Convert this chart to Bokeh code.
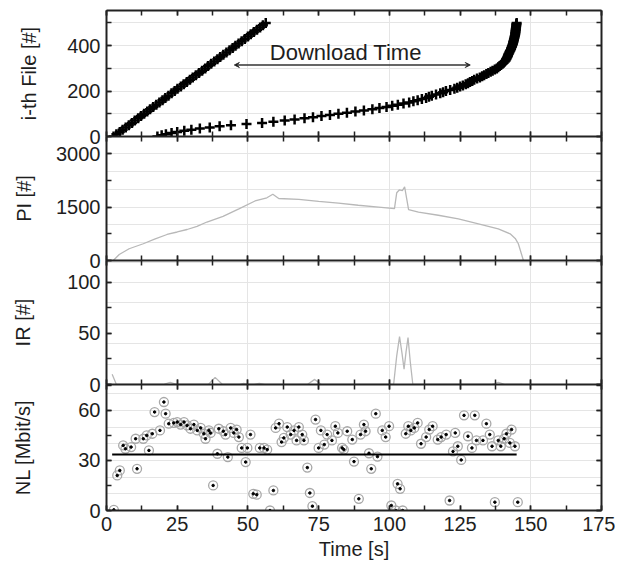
from bokeh.plotting import figure
from bokeh.layouts import column
from bokeh.models import Range1d, LinearAxis, SingleIntervalTicker, Arrow, VeeHead, Label
from bokeh.embed import file_html
from bokeh.resources import INLINE

# ---------------- data ----------------
# Panel 1: completion time of the i-th file (two transfers)
fileA_idx = list(range(0, 501, 10))
fileA_t = [2.5, 3.5, 4.7, 5.7, 6.8, 7.9, 9.0, 10.0, 11.2, 12.2, 13.3, 14.4, 15.4, 16.5, 17.6,
           18.7, 19.8, 20.8, 21.9, 23.0, 24.1, 25.1, 26.3, 27.3, 28.4, 29.5, 30.5, 31.6, 32.7,
           33.8, 34.9, 35.9, 37.0, 38.1, 39.2, 40.2, 41.3, 42.4, 43.5, 44.6, 45.6, 46.7, 47.8,
           48.9, 50.0, 51.0, 52.1, 53.2, 54.3, 55.3, 56.3]
fileB_idx = list(range(0, 501, 5))
fileB_t = [18.0, 19.5, 21.0, 23.0, 25.0, 27.5, 30.0, 33.0, 36.5, 40.0, 44.0, 49.5, 55.0, 59.0,
           63.0, 66.5, 70.0, 73.0, 76.0, 79.0, 82.0, 85.0, 88.0, 91.0, 94.0, 96.5, 99.0, 101.0,
           103.0, 105.0, 107.0, 108.5, 110.0, 111.5, 113.0, 114.0, 115.0, 116.5, 118.0, 119.0,
           120.0, 121.5, 123.0, 124.0, 125.0, 126.0, 127.0, 127.8, 128.5, 129.3, 130.0, 131.0,
           132.0, 132.8, 133.5, 134.3, 135.0, 135.8, 136.5, 137.3, 138.0, 138.5, 139.0, 139.5,
           140.0, 140.4, 140.8, 141.1, 141.3, 141.5, 141.7, 141.9, 142.0, 142.2, 142.4, 142.6,
           142.8, 143.0, 143.1, 143.3, 143.4, 143.6, 143.7, 143.8, 143.9, 144.0, 144.1, 144.2,
           144.3, 144.4, 144.5, 144.5, 144.6, 144.6, 144.7, 144.7, 144.8, 144.8, 144.9, 144.9,
           145.0]
download_label = "Download Time"
download_t = [45.2, 128.6]
download_y = 315
download_label_t = 84.6
download_label_y = 368

# Panel 2: PI
pi_t = [2.4, 4.5, 8, 13, 17, 21.4, 25, 28.5, 32, 35.5, 41.2, 46.8, 52.5, 56.7, 58.8, 60.9, 68,
        75, 82, 89, 96.2, 101.8, 102.6, 103.5, 104.6, 105.4, 106.2, 106.8, 110.3, 117.3, 124.4,
        131.5, 138.5, 142.7, 144.5, 145.6, 147.4]
pi_v = [0, 170, 330, 470, 600, 730, 800, 870, 960, 1080, 1240, 1450, 1670, 1760, 1860, 1740,
        1715, 1660, 1610, 1550, 1500, 1455, 1900, 1980, 1960, 2070, 1700, 1430, 1360, 1270,
        1170, 1030, 890, 750, 620, 470, 0]

# Panel 3: IR
ir_t = [2.0, 3.5, 20, 22.5, 25, 36, 38.4, 41, 47, 48.5, 50, 52, 54, 56, 71, 73.6, 76, 101.5,
        102.6, 103.6, 104.5, 105.2, 105.9, 106.6, 107.4, 108.3, 136, 138.5, 141, 147]
ir_v = [10, 0, 0, 2, 0, 0, 7, 0, 0, 1, 0, 0, 1, 0, 0, 5, 0, 0, 28, 47, 30, 15, 32, 46, 22, 0,
        0, 2, 0, 0]

# Panel 4: NL samples and mean line
nl_t = [2.6, 3.8, 4.7, 5.9, 6.7, 8.7, 10.3, 10.8, 13.0, 14.2, 15.0, 16.2, 17.0, 18.9, 20.3,
        20.9, 22.0, 23.8, 25.0, 26.2, 27.4, 28.5, 29.7, 30.9, 32.1, 33.3, 34.4, 35.0, 36.2,
        36.8, 37.7, 39.2, 39.7, 41.3, 42.1, 42.9, 43.9, 45.0, 46.0, 46.8, 47.8, 49.2, 49.8,
        50.9, 51.9, 53.1, 54.2, 55.7, 56.8, 57.8, 59.0, 59.8, 61.0, 61.9, 62.7, 63.9, 65.1,
        66.3, 67.2, 68.0, 69.2, 69.8, 71.0, 71.9, 72.8, 73.9, 75.0, 75.8, 77.0, 78.0, 79.7,
        80.9, 81.8, 83.3, 83.9, 85.1, 86.9, 87.5, 89.2, 89.8, 91.0, 91.6, 92.8, 93.6, 95.2,
        95.8, 97.5, 98.7, 99.9, 100.7, 102.3, 102.9, 103.8, 104.7, 105.8, 106.7, 107.6, 108.8,
        110.0, 111.2, 113.0, 114.1, 115.3, 117.1, 118.3, 120.1, 121.3, 122.5, 123.3, 124.2,
        125.4, 126.4, 127.8, 129.2, 130.2, 130.8, 133.1, 134.3, 135.5, 136.3, 137.3, 138.5,
        139.4, 140.6, 141.4, 142.6, 143.2, 144.4, 145.4]
nl_v = [0.4, 21, 24, 39, 37, 38, 43, 25, 43, 45, 36, 46, 59, 48, 65, 58, 52, 52.5, 53, 51.5,
        53, 51, 49, 51.5, 48, 49.5, 46, 43, 48, 46.5, 15, 34, 49, 47.5, 45.5, 32, 49.5, 46.5,
        48.5, 44, 37.5, 29, 37.5, 45.5, 10, 9.5, 37.5, 37.5, 36.5, 0, 12, 49.5, 52, 41, 43.5,
        50, 45.5, 48, 42, 50, 45.5, 42, 25.7, 10.5, 2.6, 54.5, 37.5, 48, 39.5, 45.5, 42, 50.5,
        46.5, 37.5, 36.5, 47.5, 42.5, 29.3, 7, 45.5, 51.5, 47.5, 34.3, 25, 58, 32.3, 48, 44,
        50.5, 3, 0, 16, 13, 0, 46, 50.5, 48, 49.5, 52.5, 40, 44, 48.5, 50.5, 42.5, 44, 45.5, 6,
        35.4, 46.5, 38.5, 30.3, 57, 44.5, 37.5, 57, 42, 42, 52, 45.5, 38.5, 5, 42, 38.5, 43,
        46, 40.5, 48.5, 38.5, 5]
nl_mean_t = [2.0, 145.0]
nl_mean = 33.5

x_max = 175
panel_ymax = [555, 3480, 121.5, 75.5]
panel_ytick = [200, 1500, 50, 30]
panel_ylabel = ["i-th File [#]", "PI [#]", "IR [#]", "NL [Mbit/s]"]
x_label = "Time [s]"

# ---------------- styling ----------------
FONT = "Liberation Sans"
TXT = "#1e1e1e"
AXC = "#222222"
FW = 495
OVER = 12  # overlap between stacked panels so edge labels are not clipped


def style_axis(ax, show_labels):
    ax.axis_line_color = AXC
    ax.axis_line_width = 2
    ax.major_tick_line_color = AXC
    ax.minor_tick_line_color = AXC
    ax.major_tick_line_width = 1.5
    ax.minor_tick_line_width = 1.5
    ax.major_tick_in = 5
    ax.major_tick_out = 0
    ax.minor_tick_in = 5
    ax.minor_tick_out = 0
    ax.major_label_text_font = FONT
    ax.axis_label_text_font = FONT
    ax.axis_label_text_color = TXT
    ax.axis_label_text_font_style = "normal"
    ax.axis_label_text_font_size = "20px"
    if show_labels:
        ax.major_label_text_color = TXT
        ax.major_label_text_font_size = "20px"
        ax.major_label_standoff = 6
    else:
        ax.major_label_text_color = None
        ax.major_label_text_font_size = "0px"
        ax.major_label_standoff = 0


def make_panel(k, fh, top, bottom, label_standoff, show_x, margin_top):
    p = figure(frame_width=FW, frame_height=fh,
               x_range=Range1d(0, x_max), y_range=Range1d(0, panel_ymax[k]),
               output_backend="svg", toolbar_location=None,
               x_axis_location=None, y_axis_location=None,
               min_border_left=106, min_border_right=14,
               min_border_top=top, min_border_bottom=bottom,
               outline_line_color=None, border_fill_color=None,
               background_fill_color=None,
               margin=(margin_top, 0, 0, 0))
    yt = lambda: SingleIntervalTicker(interval=panel_ytick[k], num_minor_ticks=2)
    xt = lambda: SingleIntervalTicker(interval=25, num_minor_ticks=2)
    left = LinearAxis(ticker=yt(), axis_label=panel_ylabel[k])
    style_axis(left, True)
    left.axis_label_standoff = label_standoff
    right = LinearAxis(ticker=yt())
    style_axis(right, False)
    below = LinearAxis(ticker=xt(), axis_label=x_label if show_x else None)
    style_axis(below, show_x)
    if show_x:
        below.axis_label_standoff = 4
    above = LinearAxis(ticker=xt())
    style_axis(above, False)
    if k > 0:
        above.axis_line_color = None
    p.add_layout(left, "left")
    p.add_layout(right, "right")
    p.add_layout(below, "below")
    p.add_layout(above, "above")
    return p


p1 = make_panel(0, 126, 10, OVER, 24, False, 0)
p1.scatter(fileA_t, fileA_idx, marker="cross", size=10, line_width=2.5, color="black")
p1.scatter(fileB_t, fileB_idx, marker="cross", size=10, line_width=2.5, color="black")
p1.add_layout(Arrow(start=VeeHead(size=5, line_color="#333333", line_width=1),
                    end=VeeHead(size=5, line_color="#333333", line_width=1),
                    x_start=download_t[0], y_start=download_y,
                    x_end=download_t[1], y_end=download_y,
                    line_color="#333333", line_width=1.5))
p1.add_layout(Label(x=download_label_t, y=download_label_y, text=download_label,
                    text_align="center", text_baseline="alphabetic",
                    text_font=FONT, text_font_size="22px", text_color=TXT))

p2 = make_panel(1, 124, 0, OVER, 18, False, -OVER)
p2.line(pi_t, pi_v, line_color="#b8b8b8", line_width=1.3)

p3 = make_panel(2, 124, 0, OVER, 30, False, -OVER)
p3.line(ir_t, ir_v, line_color="#b8b8b8", line_width=1.3)

p4 = make_panel(3, 126, 0, 56, 41, True, -OVER)
p4.scatter(nl_t, nl_v, marker="circle", size=9, fill_color=None,
           line_color="#a8a8a8", line_width=1.3)
p4.scatter(nl_t, nl_v, marker="circle", size=2.5, color="black")
p4.line(nl_mean_t, [nl_mean, nl_mean], line_color="black", line_width=2)

layout = column(p1, p2, p3, p4, spacing=0)
open("out.html", "w").write(file_html(layout, INLINE))
